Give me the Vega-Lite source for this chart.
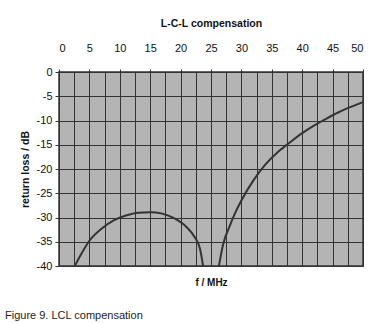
{
  "$schema": "https://vega.github.io/schema/vega-lite/v6.json",
  "width": 304,
  "height": 194,
  "autosize": "none",
  "padding": {"left": 59, "top": 72, "right": 27, "bottom": 57},
  "background": "white",
  "config": {
    "font": "Liberation Sans",
    "view": {"fill": "#b4b4b4", "stroke": "#333333", "strokeWidth": 1.5},
    "axis": {"labelFont": "Liberation Sans", "titleFont": "Liberation Sans", "labelColor": "#111", "titleColor": "#111"}
  },
  "title": {
    "text": "Figure 9. LCL compensation",
    "orient": "bottom",
    "anchor": "start",
    "frame": "group",
    "dx": -54,
    "offset": 23,
    "fontSize": 11,
    "fontWeight": "normal",
    "font": "Liberation Sans",
    "color": "#222"
  },
  "data": {
    "values": [
      {"seg": "a", "f": 2.6, "rl": -40},
      {"seg": "a", "f": 3.5, "rl": -37.9},
      {"seg": "a", "f": 5, "rl": -34.8},
      {"seg": "a", "f": 7, "rl": -32.3},
      {"seg": "a", "f": 9, "rl": -30.6},
      {"seg": "a", "f": 11, "rl": -29.6},
      {"seg": "a", "f": 13, "rl": -29.0},
      {"seg": "a", "f": 15, "rl": -28.9},
      {"seg": "a", "f": 17, "rl": -29.2},
      {"seg": "a", "f": 19, "rl": -30.2},
      {"seg": "a", "f": 21, "rl": -32.0},
      {"seg": "a", "f": 22.3, "rl": -34.0},
      {"seg": "a", "f": 23.2, "rl": -36.5},
      {"seg": "a", "f": 23.7, "rl": -40},
      {"seg": "b", "f": 26.3, "rl": -40},
      {"seg": "b", "f": 27, "rl": -35.5},
      {"seg": "b", "f": 28, "rl": -32},
      {"seg": "b", "f": 29, "rl": -29},
      {"seg": "b", "f": 30, "rl": -26.5},
      {"seg": "b", "f": 32, "rl": -22.3},
      {"seg": "b", "f": 34, "rl": -19},
      {"seg": "b", "f": 36, "rl": -16.5},
      {"seg": "b", "f": 38, "rl": -14.5},
      {"seg": "b", "f": 40, "rl": -12.6},
      {"seg": "b", "f": 42, "rl": -11},
      {"seg": "b", "f": 44, "rl": -9.6},
      {"seg": "b", "f": 46, "rl": -8.3},
      {"seg": "b", "f": 48, "rl": -7.2},
      {"seg": "b", "f": 50, "rl": -6.2}
    ]
  },
  "layer": [
    {
      "mark": {"type": "line", "opacity": 0},
      "encoding": {
        "x": {"field": "f", "type": "quantitative", "scale": {"domain": [0, 50], "nice": false},
          "axis": {"orient": "bottom", "labels": false, "ticks": false, "domain": false, "grid": true,
            "values": [0, 2.5, 5, 7.5, 10, 12.5, 15, 17.5, 20, 22.5, 25, 27.5, 30, 32.5, 35, 37.5, 40, 42.5, 45, 47.5, 50],
            "gridColor": "#333333", "gridOpacity": 1, "gridWidth": 1,
            "title": "f / MHz", "titleFontSize": 10, "titleFontWeight": "bold", "titlePadding": 11}},
        "y": {"field": "rl", "type": "quantitative", "scale": {"domain": [-40, 0], "nice": false},
          "axis": {"values": [0, -5, -10, -15, -20, -25, -30, -35, -40], "grid": true, "gridColor": "#333333",
            "gridOpacity": 1, "gridWidth": 1, "domain": false, "tickSize": 4, "tickColor": "#333",
            "labelFontSize": 11, "labelPadding": 3, "labelExpr": "'' + datum.value",
            "title": "return loss / dB", "titleFontSize": 10.5, "titleFontWeight": "bold", "titlePadding": 6}},
        "detail": {"field": "seg"}
      }
    },
    {
      "mark": {"type": "line", "color": "#333333", "strokeWidth": 2, "interpolate": "monotone"},
      "encoding": {
        "x": {"field": "f", "type": "quantitative", "scale": {"domain": [0, 50], "nice": false},
          "axis": {"orient": "top", "values": [0, 5, 10, 15, 20, 25, 30, 35, 40, 45, 50], "grid": false,
            "domain": false, "tickSize": 3, "tickColor": "#333", "labelFontSize": 11, "labelPadding": 16,
            "title": "L-C-L  compensation", "titleFontSize": 10.5, "titleFontWeight": "bold", "titlePadding": 14}},
        "y": {"field": "rl", "type": "quantitative", "scale": {"domain": [-40, 0], "nice": false},
          "axis": {"values": [0, -5, -10, -15, -20, -25, -30, -35, -40], "grid": true, "gridColor": "#333333",
            "gridOpacity": 1, "gridWidth": 1, "domain": false, "tickSize": 4, "tickColor": "#333",
            "labelFontSize": 11, "labelPadding": 3, "labelExpr": "'' + datum.value",
            "title": "return loss / dB", "titleFontSize": 10.5, "titleFontWeight": "bold", "titlePadding": 6}},
        "detail": {"field": "seg"}
      }
    }
  ],
  "resolve": {"axis": {"x": "independent"}}
}
